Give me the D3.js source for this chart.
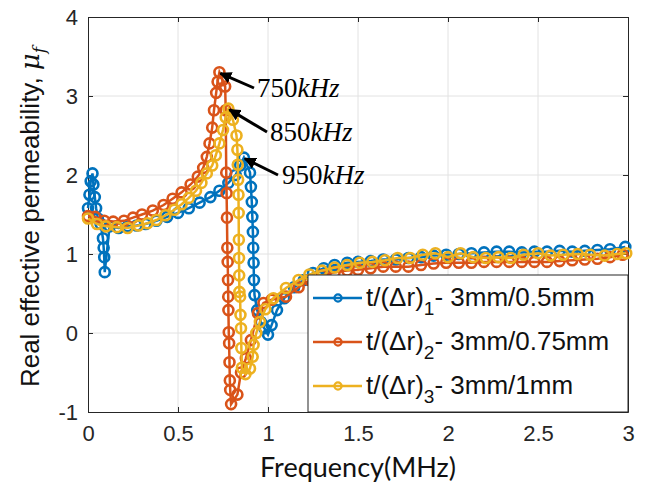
<!doctype html>
<html lang="en">
  <head>
    <meta charset="UTF-8" />
    <title>Real effective permeability</title>
    <script src="https://unpkg.com/d3@7.9.0/dist/d3.min.js"></script>
    <style>
      body {
        margin: 0;
        background: #fff;
      }
      svg {
        font-family: 'Liberation Sans', Arial, sans-serif;
      }
    </style>
  </head>
  <body>
    <div id="graph"></div>

    <script>
      // [frequency (MHz), real effective permeability]
      const blueData = [
        [0.0, 1.58], [0.008, 1.75], [0.015, 1.92], [0.025, 2.02],
        [0.03, 1.88], [0.038, 1.72], [0.045, 1.58], [0.055, 1.45],
        [0.07, 1.38], [0.083, 1.2], [0.087, 1.08], [0.09, 0.96],
        [0.093, 0.77], [0.12, 1.35], [0.17, 1.33], [0.22, 1.35],
        [0.27, 1.36], [0.32, 1.38], [0.38, 1.42], [0.44, 1.47],
        [0.5, 1.52], [0.56, 1.58], [0.62, 1.65], [0.68, 1.72],
        [0.73, 1.8], [0.78, 1.9], [0.82, 2.0], [0.845, 2.12],
        [0.866, 2.22], [0.9, 2.03], [0.905, 1.85], [0.91, 1.66],
        [0.913, 1.47], [0.916, 1.28], [0.918, 1.08], [0.92, 0.89],
        [0.922, 0.67], [0.925, 0.48], [0.94, 0.29], [0.96, 0.14],
        [0.98, 0.06], [1.0, -0.02], [1.02, 0.1], [1.05, 0.29],
        [1.09, 0.44], [1.145, 0.58], [1.2, 0.67], [1.25, 0.76],
        [1.31, 0.82], [1.37, 0.86], [1.44, 0.89], [1.5, 0.9],
        [1.57, 0.91], [1.64, 0.93], [1.71, 0.93], [1.78, 0.95],
        [1.85, 0.96], [1.92, 0.98], [1.99, 0.99], [2.06, 1.0],
        [2.13, 1.01], [2.2, 1.02], [2.27, 1.03], [2.34, 1.03],
        [2.41, 1.02], [2.48, 1.03], [2.55, 1.03], [2.62, 1.04],
        [2.69, 1.03], [2.76, 1.04], [2.83, 1.05], [2.9, 1.06],
        [2.985, 1.09],
      ];
      const orangeData = [
        [0.0, 1.48], [0.04, 1.47], [0.09, 1.42], [0.14, 1.41],
        [0.2, 1.42], [0.25, 1.46], [0.3, 1.5], [0.36, 1.55],
        [0.42, 1.62], [0.47, 1.7], [0.52, 1.78], [0.57, 1.88],
        [0.61, 1.98], [0.64, 2.09], [0.66, 2.23], [0.675, 2.4],
        [0.69, 2.6], [0.7, 2.82], [0.712, 3.04], [0.72, 3.18],
        [0.73, 3.3], [0.748, 3.2], [0.762, 3.12], [0.765, 2.82],
        [0.768, 2.03], [0.77, 1.77], [0.772, 1.46], [0.774, 1.08],
        [0.776, 0.9], [0.778, 0.67], [0.779, 0.46], [0.78, 0.29],
        [0.782, 0.01], [0.784, -0.13], [0.786, -0.37], [0.788, -0.6],
        [0.79, -0.72], [0.795, -0.9], [0.83, -0.78], [0.85, -0.5],
        [0.877, -0.32], [0.905, -0.09], [0.944, 0.25], [0.975, 0.38],
        [1.02, 0.42], [1.1, 0.46], [1.17, 0.58], [1.23, 0.67],
        [1.3, 0.73], [1.37, 0.77], [1.44, 0.79], [1.5, 0.8],
        [1.57, 0.82], [1.64, 0.84], [1.71, 0.84], [1.78, 0.84],
        [1.85, 0.86], [1.92, 0.88], [1.99, 0.89], [2.06, 0.89],
        [2.13, 0.89], [2.2, 0.9], [2.27, 0.9], [2.34, 0.9],
        [2.41, 0.9], [2.48, 0.9], [2.55, 0.9], [2.62, 0.91],
        [2.69, 0.92], [2.76, 0.93], [2.83, 0.94], [2.9, 0.96],
        [2.97, 0.99],
      ];
      const yellowData = [
        [0.0, 1.45], [0.05, 1.38], [0.1, 1.35], [0.16, 1.34],
        [0.22, 1.33], [0.28, 1.36], [0.33, 1.39], [0.38, 1.43],
        [0.43, 1.49], [0.48, 1.56], [0.52, 1.63], [0.56, 1.71],
        [0.6, 1.8], [0.63, 1.9], [0.66, 2.02], [0.69, 2.12],
        [0.71, 2.25], [0.73, 2.4], [0.75, 2.57], [0.765, 2.73],
        [0.78, 2.84], [0.805, 2.7], [0.825, 2.5], [0.83, 2.32],
        [0.832, 2.13], [0.834, 1.94], [0.836, 1.75], [0.837, 1.52],
        [0.838, 1.18], [0.839, 0.95], [0.84, 0.73], [0.841, 0.52],
        [0.845, 0.46], [0.847, 0.23], [0.85, 0.06], [0.852, -0.19],
        [0.855, -0.44], [0.875, -0.52], [0.9, -0.45], [0.915, -0.3],
        [0.92, -0.15], [0.935, 0.0], [0.955, 0.14], [0.985, 0.3],
        [1.03, 0.44], [1.1, 0.57], [1.17, 0.67], [1.23, 0.74],
        [1.3, 0.79], [1.37, 0.83], [1.44, 0.86], [1.51, 0.89],
        [1.58, 0.9], [1.65, 0.92], [1.72, 0.95], [1.79, 0.95],
        [1.86, 0.99], [1.93, 1.01], [2.0, 0.96], [2.07, 1.01],
        [2.14, 0.96], [2.21, 0.95], [2.28, 0.96], [2.35, 0.95],
        [2.42, 0.99], [2.5, 1.01], [2.57, 0.98], [2.64, 0.99],
        [2.72, 1.0], [2.79, 0.99], [2.87, 0.98], [2.94, 1.0],
        [2.99, 1.01],
      ];

      const seriesNames = ['1', '2', '3'];
      const seriesSuffix = ['- 3mm/0.5mm', '- 3mm/0.75mm', '- 3mm/1mm'];
      const seriesColors = ['#0072BD', '#D95319', '#EDB120'];

      const xTicks = [0, 0.5, 1, 1.5, 2, 2.5, 3];
      const yTicks = [-1, 0, 1, 2, 3, 4];

      // annotation: label, peak point [f, mu]
      const peakLabels = ['750', '850', '950'];
      const peakPoints = [[0.73, 3.3], [0.78, 2.84], [0.866, 2.22]];

      const W = 647;
      const H = 490;
      const margin = { top: 17, right: 19, bottom: 78, left: 88 };
      const width = W - margin.left - margin.right;
      const height = H - margin.top - margin.bottom;

      const svg = d3
        .select('#graph')
        .append('svg')
        .attr('width', W)
        .attr('height', H);

      const g = svg
        .append('g')
        .attr('transform', `translate(${margin.left},${margin.top})`);

      const x = d3.scaleLinear().domain([0, 3]).range([0, width]);
      const y = d3.scaleLinear().domain([-1, 4]).range([height, 0]);

      // grid
      g.append('g')
        .selectAll('line')
        .data(xTicks.slice(1, -1))
        .enter()
        .append('line')
        .attr('x1', (d) => x(d))
        .attr('x2', (d) => x(d))
        .attr('y1', 0)
        .attr('y2', height)
        .style('stroke', '#e2e2e2')
        .style('stroke-width', 1);
      g.append('g')
        .selectAll('line')
        .data(yTicks.slice(1, -1))
        .enter()
        .append('line')
        .attr('x1', 0)
        .attr('x2', width)
        .attr('y1', (d) => y(d))
        .attr('y2', (d) => y(d))
        .style('stroke', '#e2e2e2')
        .style('stroke-width', 1);

      // axes
      const fmt = (d) => String(d);
      const xAxis = g
        .append('g')
        .attr('transform', `translate(0,${height})`)
        .call(d3.axisBottom(x).tickValues(xTicks).tickFormat(fmt).tickSizeInner(-5).tickSizeOuter(0).tickPadding(13));
      const yAxis = g
        .append('g')
        .call(d3.axisLeft(y).tickValues(yTicks).tickFormat(fmt).tickSizeInner(-5).tickSizeOuter(0).tickPadding(10));
      g.append('g')
        .attr('transform', `translate(${width},0)`)
        .call(d3.axisRight(y).tickValues(yTicks).tickSizeInner(-5).tickSizeOuter(0).tickFormat(''));
      g.append('g')
        .call(d3.axisTop(x).tickValues(xTicks).tickSizeInner(-5).tickSizeOuter(0).tickFormat(''));

      g.selectAll('.domain, .tick line').style('stroke', '#262626');
      [xAxis, yAxis].forEach((ax) => {
        ax.attr('font-family', "'Liberation Sans', Arial, sans-serif")
          .attr('font-size', 22);
        ax.selectAll('text')
          .style('font-size', '22px')
          .style('fill', '#262626')
          .style('font-family', "'Liberation Sans', Arial, sans-serif");
      });

      // series
      const line = d3
        .line()
        .x((d) => x(d[0]))
        .y((d) => y(d[1]));

      [blueData, orangeData, yellowData].forEach((data, i) => {
        const sg = g.append('g');
        sg.append('path')
          .datum(data)
          .attr('d', line)
          .style('fill', 'none')
          .style('stroke', seriesColors[i])
          .style('stroke-width', 2.5);
        sg.selectAll('circle')
          .data(data)
          .enter()
          .append('circle')
          .attr('cx', (d) => x(d[0]))
          .attr('cy', (d) => y(d[1]))
          .attr('r', 5)
          .style('fill', 'none')
          .style('stroke', seriesColors[i])
          .style('stroke-width', 2.6);
      });

      // peak annotations
      const labelPos = [
        [257, 97],
        [270, 141],
        [282, 184],
      ];
      const arrowTail = [
        [254, 88],
        [267, 132],
        [278, 175],
      ];
      const defs = svg.append('defs');
      defs
        .append('marker')
        .attr('id', 'arrowhead')
        .attr('viewBox', '0 0 10 10')
        .attr('refX', 9)
        .attr('refY', 5)
        .attr('markerWidth', 4)
        .attr('markerHeight', 4)
        .attr('orient', 'auto')
        .append('path')
        .attr('d', 'M0,0 L10,5 L0,10 z')
        .style('fill', '#000');

      peakPoints.forEach((p, i) => {
        svg
          .append('line')
          .attr('x1', arrowTail[i][0])
          .attr('y1', arrowTail[i][1])
          .attr('x2', margin.left + x(p[0]) + 1)
          .attr('y2', margin.top + y(p[1]) + 1)
          .style('stroke', '#000')
          .style('stroke-width', 3)
          .attr('marker-end', 'url(#arrowhead)');
        const t = svg
          .append('text')
          .attr('x', labelPos[i][0])
          .attr('y', labelPos[i][1])
          .style('font-family', "'Liberation Serif', 'DejaVu Serif', serif")
          .style('font-size', '27px')
          .style('fill', '#000');
        t.append('tspan').text(peakLabels[i]);
        t.append('tspan').style('font-style', 'italic').text('kHz');
      });

      // legend
      const lg = g.append('g');
      const lx0 = 308 - margin.left;
      const ly0 = 275 - margin.top;
      lg.append('rect')
        .attr('x', lx0)
        .attr('y', ly0)
        .attr('width', width - lx0)
        .attr('height', height - ly0)
        .style('fill', '#fff')
        .style('stroke', '#262626')
        .style('stroke-width', 1);

      seriesNames.forEach((name, i) => {
        const cy = ly0 + 23 + i * 44;
        lg.append('line')
          .attr('x1', lx0 + 5)
          .attr('x2', lx0 + 54)
          .attr('y1', cy)
          .attr('y2', cy)
          .style('stroke', seriesColors[i])
          .style('stroke-width', 2.5);
        lg.append('circle')
          .attr('cx', lx0 + 30)
          .attr('cy', cy)
          .attr('r', 3.6)
          .style('fill', 'none')
          .style('stroke', seriesColors[i])
          .style('stroke-width', 2.2);
        const t = lg
          .append('text')
          .attr('x', lx0 + 58)
          .attr('y', cy + 8)
          .style('font-size', '26px')
          .style('fill', '#111');
        t.append('tspan').text('t/(\u0394r)');
        t.append('tspan').attr('dy', 9).style('font-size', '19px').text(name);
        t.append('tspan').attr('dy', -9).text(seriesSuffix[i]);
      });

      // axis labels
      svg
        .append('text')
        .attr('x', margin.left + width / 2)
        .attr('y', 477)
        .attr('text-anchor', 'middle')
        .style('font-family', "Lato, 'Open Sans', sans-serif")
        .style('font-size', '27px')
        .style('fill', '#111')
        .text('Frequency(MHz)');

      const yl = svg
        .append('text')
        .attr('transform', 'translate(39,217) rotate(-90)')
        .attr('text-anchor', 'middle')
        .style('font-size', '26px')
        .style('fill', '#111');
      yl.append('tspan').text('Real effective permeability, ');
      yl.append('tspan')
        .style('font-family', "'DejaVu Serif', 'Liberation Serif', serif")
        .style('font-style', 'italic')
        .text('\u03BC');
      yl.append('tspan')
        .attr('dy', 6)
        .style('font-family', "'DejaVu Serif', 'Liberation Serif', serif")
        .style('font-style', 'italic')
        .style('font-size', '17px')
        .text('f');
    </script>
  </body>
</html>
